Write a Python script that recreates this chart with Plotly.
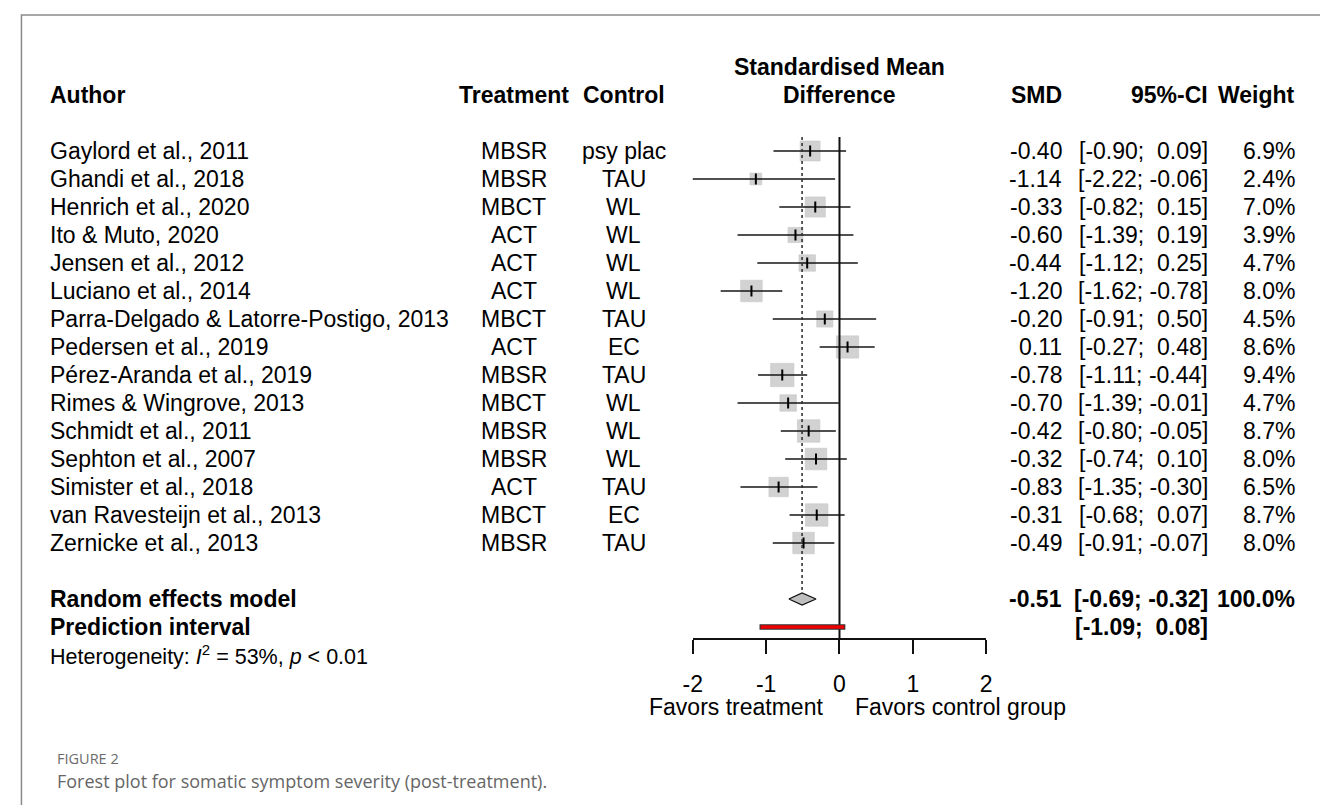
import plotly.graph_objects as go
import math

# ---------------- data ----------------
authors = ["Gaylord et al., 2011", "Ghandi et al., 2018", "Henrich et al., 2020",
           "Ito & Muto, 2020", "Jensen et al., 2012", "Luciano et al., 2014",
           "Parra-Delgado & Latorre-Postigo, 2013", "Pedersen et al., 2019",
           "Pérez-Aranda et al., 2019", "Rimes & Wingrove, 2013", "Schmidt et al., 2011",
           "Sephton et al., 2007", "Simister et al., 2018", "van Ravesteijn et al., 2013",
           "Zernicke et al., 2013"]
treatment = ["MBSR", "MBSR", "MBCT", "ACT", "ACT", "ACT", "MBCT", "ACT", "MBSR",
             "MBCT", "MBSR", "MBSR", "ACT", "MBCT", "MBSR"]
control = ["psy plac", "TAU", "WL", "WL", "WL", "WL", "TAU", "EC", "TAU", "WL",
           "WL", "WL", "TAU", "EC", "TAU"]
smd = [-0.40, -1.14, -0.33, -0.60, -0.44, -1.20, -0.20, 0.11, -0.78, -0.70,
       -0.42, -0.32, -0.83, -0.31, -0.49]
ci_low = [-0.90, -2.22, -0.82, -1.39, -1.12, -1.62, -0.91, -0.27, -1.11, -1.39,
          -0.80, -0.74, -1.35, -0.68, -0.91]
ci_high = [0.09, -0.06, 0.15, 0.19, 0.25, -0.78, 0.50, 0.48, -0.44, -0.01,
           -0.05, 0.10, -0.30, 0.07, -0.07]
weights = [6.9, 2.4, 7.0, 3.9, 4.7, 8.0, 4.5, 8.6, 9.4, 4.7, 8.7, 8.0, 6.5, 8.7, 8.0]

re_est, re_low, re_high, re_weight = -0.51, -0.69, -0.32, 100.0
pi_low, pi_high = -1.09, 0.08
het_text = "Heterogeneity: <i>I</i><sup>2</sup> = 53%, <i>p</i> &lt; 0.01"
x_ticks = [-2, -1, 0, 1, 2]
x_ticktext = ["-2", "-1", "0", "1", "2"]

# ---------------- layout helpers ----------------
W, H = 1328, 805
ROW0_PX, ROW_PX = 143, 28.0
AXIS_PX = 631
FONT = "Liberation Sans, Arial, sans-serif"
FS = 23

def px2row(p):
    return (p - ROW0_PX) / ROW_PX

n = len(authors)
rows = list(range(n))
re_row = n + 1
pi_row = n + 2
het_row = n + 3
axis_row = px2row(AXIS_PX)

fig = go.Figure()

# squares
fig.add_trace(go.Scatter(
    x=smd, y=rows, mode="markers",
    marker=dict(symbol="square", size=[7.6 * math.sqrt(w) for w in weights],
                color="#bfbfbf", line=dict(width=0.6, color="#b0b0b0")),
    hoverinfo="skip", showlegend=False))

# CI lines
lx, ly = [], []
for r, a, b in zip(rows, ci_low, ci_high):
    lx += [a, b, None]
    ly += [r, r, None]
fig.add_trace(go.Scatter(x=lx, y=ly, mode="lines",
                         line=dict(color="#161616", width=1.7),
                         hoverinfo="skip", showlegend=False))

# center ticks
fig.add_trace(go.Scatter(
    x=smd, y=rows, mode="markers",
    marker=dict(symbol="line-ns", size=8, line=dict(width=2, color="black")),
    hoverinfo="skip", showlegend=False))

# zero line
fig.add_trace(go.Scatter(x=[0, 0], y=[-0.5, axis_row], mode="lines",
                         line=dict(color="#111111", width=2),
                         hoverinfo="skip", showlegend=False))

# dotted summary line
dh = 6.0 / ROW_PX
fig.add_trace(go.Scatter(x=[re_est, re_est], y=[-0.5, re_row - dh], mode="lines",
                         line=dict(color="#333333", width=1.6, dash="dot"),
                         hoverinfo="skip", showlegend=False))

# diamond
fig.add_trace(go.Scatter(
    x=[re_low, re_est, re_high, re_est, re_low],
    y=[re_row, re_row - dh, re_row, re_row + dh, re_row],
    mode="lines", fill="toself", fillcolor="#bfbfbf",
    line=dict(color="#111111", width=1.3),
    hoverinfo="skip", showlegend=False))

# prediction interval
fig.add_trace(go.Scatter(x=[pi_low, pi_high], y=[pi_row, pi_row], mode="lines",
                         line=dict(color="#333333", width=5.5),
                         hoverinfo="skip", showlegend=False))
fig.add_trace(go.Scatter(x=[pi_low + 0.015, pi_high - 0.015], y=[pi_row, pi_row], mode="lines",
                         line=dict(color="#ee0000", width=3.5),
                         hoverinfo="skip", showlegend=False))

ann = []

def txt(x, y, s, anchor="left", bold=False, size=FS, xref="paper", yref="y",
        color="black", family=FONT):
    if bold:
        s = "<b>" + s + "</b>"
    ann.append(dict(x=x, y=y, xref=xref, yref=yref, text=s, showarrow=False,
                    xanchor=anchor, yanchor="middle",
                    font=dict(family=family, size=size, color=color)))

X_AUTH = 30 / W
X_TREAT = 502 / W
X_CTRL = 613 / W
X_SMD = 1059 / W
X_CI = 1207 / W
X_WT = 1295 / W

hdr = -2
txt(X_AUTH, hdr, "Author", bold=True)
txt(X_TREAT, hdr, "Treatment", "center", bold=True)
txt(X_CTRL, hdr, "Control", "center", bold=True)
txt(0, hdr - 1, "Standardised Mean", "center", bold=True, xref="x")
txt(0, hdr, "Difference", "center", bold=True, xref="x")
txt(X_SMD, hdr, "SMD", "right", bold=True)
txt(X_CI, hdr, "95%-CI", "right", bold=True)
txt(X_WT, hdr, "Weight", "right", bold=True)

def fmt_ci(a, b):
    sa = f"{a:.2f}"
    sb = f"{b:.2f}"
    pad = "\u00a0\u00a0" if b >= 0 else "\u00a0"
    pa = "\u00a0\u00a0" if a >= 0 else ""
    return f"[{pa}{sa};{pad}{sb}]"

for r in rows:
    txt(X_AUTH, r, authors[r])
    txt(X_TREAT, r, treatment[r], "center")
    txt(X_CTRL, r, control[r], "center")
    txt(X_SMD, r, f"{smd[r]:.2f}", "right")
    txt(X_CI, r, fmt_ci(ci_low[r], ci_high[r]), "right")
    txt(X_WT, r, f"{weights[r]:.1f}%", "right")

txt(X_AUTH, re_row, "Random effects model", bold=True)
txt(X_SMD, re_row, f"{re_est:.2f}", "right", bold=True)
txt(X_CI, re_row, fmt_ci(re_low, re_high), "right", bold=True)
txt(X_WT, re_row, f"{re_weight:.1f}%", "right", bold=True)
txt(X_AUTH, pi_row, "Prediction interval", bold=True)
txt(X_CI, pi_row, fmt_ci(pi_low, pi_high), "right", bold=True)
txt(X_AUTH, het_row, het_text, size=21.5)

fav_row = px2row(699)
txt(-0.2, fav_row, "Favors treatment", "right", xref="x")
txt(0.19, fav_row, "Favors control group", "left", xref="x")

txt(37 / W, (H - 750) / H, "FIGURE 2", yref="paper", size=14.5, color="#6b6b6b",
    family="Open Sans, Noto Sans, sans-serif")
txt(37 / W, (H - 773) / H, "Forest plot for somatic symptom severity (post-treatment).",
    yref="paper", size=18, color="#666666", family="Open Sans, Noto Sans, sans-serif")

fig.update_layout(
    width=W, height=H,
    margin=dict(l=0, r=0, t=0, b=0),
    paper_bgcolor="white", plot_bgcolor="rgba(0,0,0,0)",
    showlegend=False,
    annotations=ann,
    xaxis=dict(domain=[683 / W, 980 / W], range=[-2, 2], anchor="free",
               position=(H - AXIS_PX) / H,
               showgrid=False, zeroline=False, showline=True,
               linecolor="#111111", linewidth=1.8,
               ticks="outside", ticklen=14, tickwidth=1.8, tickcolor="#111111",
               tickvals=x_ticks, ticktext=x_ticktext, ticklabelstandoff=10,
               tickfont=dict(family=FONT, size=FS, color="black"),
               fixedrange=True),
    yaxis=dict(domain=[0, 1], range=[px2row(H), px2row(0)], visible=False,
               showgrid=False, zeroline=False, fixedrange=True),
    shapes=[dict(type="rect", xref="paper", yref="paper",
                 x0=3.5 / W, x1=1323.5 / W, y0=-0.05, y1=(H - 7) / H,
                 line=dict(color="#8a8a8a", width=1.5), fillcolor="rgba(0,0,0,0)",
                 layer="below")],
)

fig.write_html("out.html")
